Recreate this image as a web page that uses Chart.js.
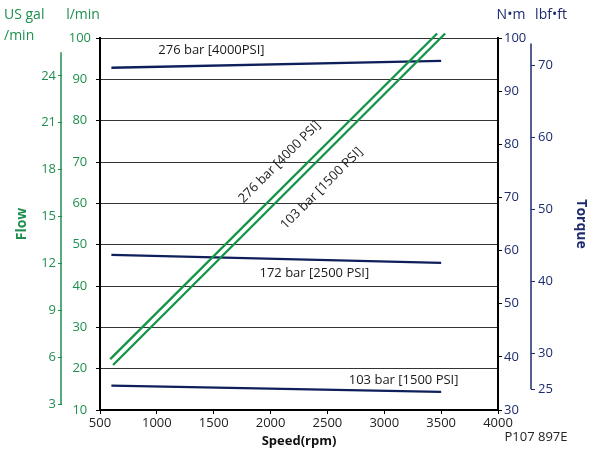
<!DOCTYPE html>
<html>
<head>
<meta charset="utf-8">
<script src="https://cdn.jsdelivr.net/npm/chart.js@4.4.0/dist/chart.umd.min.js"></script>
<style>
  body { margin: 0; background: #fff; }
  #wrap { width: 600px; height: 452px; }
</style>
</head>
<body>
<div id="wrap"><canvas id="chart"></canvas></div>
<script>
// axis ticks
const speedTicks = [500, 1000, 1500, 2000, 2500, 3000, 3500, 4000];
const flowTicks = [10, 20, 30, 40, 50, 60, 70, 80, 90, 100];
const galTicks = [3, 6, 9, 12, 15, 18, 21, 24];
const nmTicks = [30, 40, 50, 60, 70, 80, 90, 100];
const lbfTicks = [25, 30, 40, 50, 60, 70];

// flow (l/min) vs speed
const flowSpeed276 = [590, 3465];
const flow276 = [22.3, 101.1];
const flowSpeed103 = [615, 3535];
const flow103 = [20.9, 101.1];

// torque (N·m) vs speed
const torqueSpeed = [600, 3500];
const torque276 = [94.4, 95.7];
const torque172 = [59.2, 57.7];
const torque103 = [34.6, 33.4];

const LPM_PER_GAL = 3.7854;
const NM_PER_LBFFT = 1.35582;

const GREEN = '#1e8f4e';
const GREEN_LINE = '#149447';
const NAVY = '#1d2b6e';
const NAVY_LINE = '#0e1f5b';
const FONT = '"Open Sans", "DejaVu Sans", sans-serif';

const pts = (xs, ys) => xs.map((x, i) => ({ x: x, y: ys[i] }));
const plain = v => String(v);

function fixed(values) {
    return function (scale) {
        scale.ticks = values.map(v => ({ value: v }));
    };
}

// unit captions, outer axis lines and curve labels
const extras = {
    id: 'extras',
    afterDraw(chart) {
        const ctx = chart.ctx;
        const s = chart.scales;
        ctx.save();

        // partial outer axis lines
        ctx.lineWidth = 1.5;
        ctx.strokeStyle = GREEN;
        ctx.beginPath();
        ctx.moveTo(s.yGal.right - 1, s.yGal.getPixelForValue(3));
        ctx.lineTo(s.yGal.right - 1, s.yGal.getPixelForValue(25.5));
        ctx.stroke();
        ctx.strokeStyle = NAVY;
        ctx.beginPath();
        ctx.moveTo(s.yLbf.left, s.yLbf.getPixelForValue(25));
        ctx.lineTo(s.yLbf.left, s.yLbf.getPixelForValue(73));
        ctx.stroke();

        // units
        ctx.font = '14px ' + FONT;
        ctx.textBaseline = 'middle';
        ctx.textAlign = 'left';
        ctx.fillStyle = GREEN;
        ctx.fillText('US gal', 4, 15);
        ctx.fillText('/min', 4, 36);
        ctx.textAlign = 'center';
        ctx.fillText('l/min', 83, 15);
        ctx.fillStyle = NAVY;
        ctx.fillText('N•m', 511, 15);
        ctx.fillText('lbf•ft', 551, 15);

        // reference code
        ctx.font = '13px ' + FONT;
        ctx.fillStyle = '#222';
        ctx.fillText('P107 897E', 536, 437);

        // torque curve labels
        const x = s.x, nm = s.yNm, fl = s.y;
        ctx.fillStyle = '#1a1a1a';
        ctx.fillText('276 bar [4000PSI]', x.getPixelForValue(1480), nm.getPixelForValue(97.6));
        ctx.fillText('172 bar [2500 PSI]', x.getPixelForValue(2385), nm.getPixelForValue(55.8));
        ctx.fillText('103 bar [1500 PSI]', x.getPixelForValue(3170), nm.getPixelForValue(35.6));

        // flow curve labels, along the lines
        const rot = (txt, sx, fy) => {
            ctx.save();
            ctx.translate(x.getPixelForValue(sx), fl.getPixelForValue(fy));
            ctx.rotate(-Math.PI / 4);
            ctx.fillText(txt, 0, 0);
            ctx.restore();
        };
        rot('276 bar [4000 PSI]', 2080, 70);
        rot('103 bar [1500 PSI]', 2450, 63.6);

        ctx.restore();
    }
};

new Chart(document.getElementById('chart'), {
    type: 'line',
    data: {
        datasets: [
            { data: pts(flowSpeed276, flow276), yAxisID: 'y', borderColor: GREEN_LINE, clip: false },
            { data: pts(flowSpeed103, flow103), yAxisID: 'y', borderColor: GREEN_LINE, clip: false },
            { data: pts(torqueSpeed, torque276), yAxisID: 'yNm', borderColor: NAVY_LINE },
            { data: pts(torqueSpeed, torque172), yAxisID: 'yNm', borderColor: NAVY_LINE },
            { data: pts(torqueSpeed, torque103), yAxisID: 'yNm', borderColor: NAVY_LINE }
        ]
    },
    options: {
        responsive: true,
        maintainAspectRatio: false,
        animation: false,
        layout: { padding: { left: 0, right: 0, top: 38, bottom: 0 } },
        elements: {
            line: { borderWidth: 2.3, tension: 0 },
            point: { radius: 0 }
        },
        plugins: {
            legend: { display: false },
            tooltip: { enabled: false }
        },
        scales: {
            x: {
                type: 'linear',
                min: 500,
                max: 4000,
                afterBuildTicks: fixed(speedTicks),
                afterFit: s => { s.height = 42; },
                grid: { drawOnChartArea: false, tickLength: 4, color: '#000' },
                border: { color: '#000', width: 2 },
                ticks: { color: '#222', font: { family: FONT, size: 13 }, padding: 1, maxRotation: 0, callback: plain },
                title: {
                    display: true,
                    text: 'Speed(rpm)',
                    color: '#111',
                    font: { family: FONT, size: 13, weight: 'bold' },
                    padding: { top: 0, bottom: 3 }
                }
            },
            y: {
                position: 'left',
                weight: 1,
                min: 10,
                max: 100,
                afterBuildTicks: fixed(flowTicks),
                afterFit: s => { s.width = 38; },
                grid: { color: '#333', tickLength: 4, tickColor: '#000' },
                border: { color: '#000', width: 2 },
                ticks: { color: GREEN, font: { family: FONT, size: 13 }, crossAlign: 'center', padding: 5, callback: plain }
            },
            yGal: {
                position: 'left',
                weight: 2,
                min: 10 / LPM_PER_GAL,
                max: 100 / LPM_PER_GAL,
                afterBuildTicks: fixed(galTicks),
                afterFit: s => { s.width = 62; },
                grid: { drawOnChartArea: false, tickLength: 4, color: GREEN },
                border: { display: false },
                ticks: { color: GREEN, font: { family: FONT, size: 13 }, padding: 2, callback: plain },
                title: {
                    display: true,
                    text: 'Flow',
                    color: GREEN,
                    font: { family: FONT, size: 14, weight: 'bold' },
                    padding: { top: 14, bottom: 0 }
                }
            },
            yNm: {
                position: 'right',
                weight: 1,
                min: 30,
                max: 100,
                afterBuildTicks: fixed(nmTicks),
                afterFit: s => { s.width = 33; },
                grid: { drawOnChartArea: false, tickLength: 4, color: '#000' },
                border: { color: '#000', width: 2 },
                ticks: { color: NAVY, font: { family: FONT, size: 13 }, padding: 2, callback: plain }
            },
            yLbf: {
                position: 'right',
                weight: 2,
                min: 30 / NM_PER_LBFFT,
                max: 100 / NM_PER_LBFFT,
                afterBuildTicks: fixed(lbfTicks),
                afterFit: s => { s.width = 69; },
                grid: { drawOnChartArea: false, tickLength: 4, color: NAVY },
                border: { display: false },
                ticks: { color: NAVY, font: { family: FONT, size: 13 }, padding: 3, callback: plain },
                title: {
                    display: true,
                    text: 'Torque',
                    color: NAVY,
                    font: { family: FONT, size: 14, weight: 'bold' },
                    padding: { top: 11, bottom: 0 }
                }
            }
        }
    },
    plugins: [extras]
});
</script>
</body>
</html>
